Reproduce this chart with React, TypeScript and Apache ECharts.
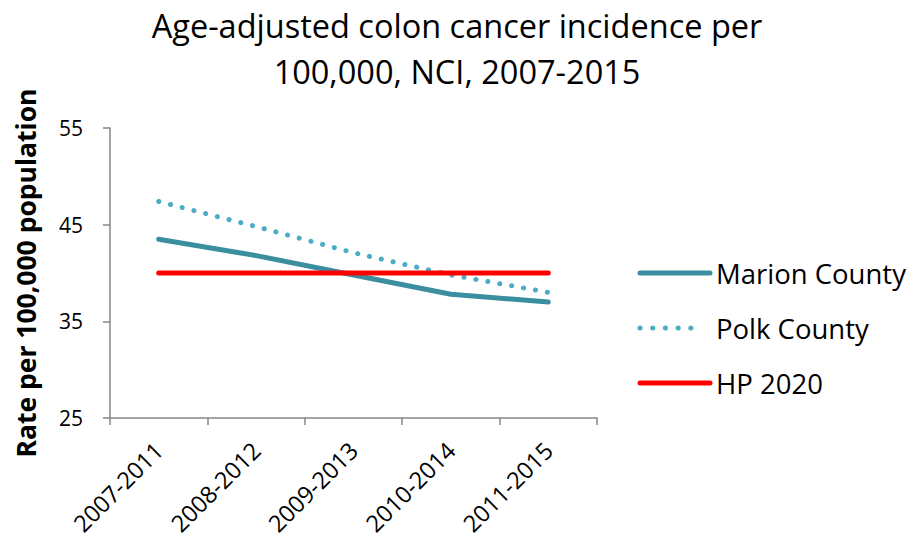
import React, { useEffect, useRef } from "react";
import * as echarts from "echarts";

const categories = ["2007-2011", "2008-2012", "2009-2013", "2010-2014", "2011-2015"];
const marion = [43.5, 41.8, 39.8, 37.8, 37.0];
const polk = [47.4, 44.8, 42.1, 39.8, 38.0];
const hp2020 = [40, 40, 40, 40, 40];
const seriesNames = ["Marion County", "Polk County", "HP 2020"];
const seriesColors = ["#3A8EA0", "#4BACC6", "#FF0000"];
const titleText = "Age-adjusted colon cancer incidence per\n100,000, NCI, 2007-2015";
const yAxisName = "Rate per 100,000 population";

const FONT = "Open Sans";

export default function App() {
  const ref = useRef<HTMLDivElement>(null);
  useEffect(() => {
    const chart = echarts.init(ref.current!, null, { renderer: "svg" });
    const legendX = 640;
    const legendY0 = 273;
    const legendStep = 55;
    const legendGraphics: any[] = [];
    seriesNames.forEach((name, i) => {
      const y = legendY0 + i * legendStep;
      legendGraphics.push({
        type: "line",
        shape: { x1: legendX, y1: y, x2: legendX + (i === 1 ? 63 : 70), y2: y },
        style: {
          stroke: seriesColors[i],
          lineWidth: 5,
          lineCap: "round",
          lineDash: i === 1 ? [0.1, 12.6] : null,
        },
        z: 10,
      });
      legendGraphics.push({
        type: "text",
        x: 716,
        y: y,
        style: {
          text: name,
          fontFamily: FONT,
          fontSize: 27.5,
          fill: "#000",
          verticalAlign: "middle",
          align: "left",
        },
        z: 10,
      });
    });
    chart.setOption({
      animation: false,
      backgroundColor: "#ffffff",
      textStyle: { fontFamily: FONT },
      title: {
        text: titleText,
        left: "center",
        top: 2,
        padding: 0,
        textStyle: { fontFamily: FONT, fontSize: 32.5, fontWeight: "normal", color: "#000", lineHeight: 46 },
      },
      graphic: legendGraphics,
      grid: { left: 110, right: 317, top: 128, bottom: 119 },
      xAxis: {
        type: "category",
        data: categories,
        boundaryGap: true,
        axisLine: { lineStyle: { color: "#868686", width: 1.5 } },
        axisTick: { show: true, alignWithLabel: false, length: 7, lineStyle: { color: "#868686", width: 1.5 } },
        axisLabel: { rotate: 45, fontSize: 23.5, color: "#000", fontFamily: FONT, margin: 28 },
      },
      yAxis: {
        type: "value",
        min: 25,
        max: 55,
        interval: 10,
        name: yAxisName,
        nameLocation: "middle",
        nameGap: 71,
        nameTextStyle: { fontFamily: FONT, fontSize: 26.5, fontWeight: "bold", color: "#000" },
        splitLine: { show: false },
        axisLine: { show: true, lineStyle: { color: "#868686", width: 1.5 } },
        axisTick: { show: true, length: 7, lineStyle: { color: "#868686", width: 1.5 } },
        axisLabel: { fontSize: 21, color: "#000", fontFamily: FONT, margin: 27 },
      },
      series: [
        {
          name: seriesNames[0],
          type: "line",
          data: marion,
          symbol: "none",
          lineStyle: { color: seriesColors[0], width: 5, cap: "round", join: "round" },
          z: 2,
        },
        {
          name: seriesNames[1],
          type: "line",
          data: polk,
          symbol: "none",
          lineStyle: { color: seriesColors[1], width: 5, type: [0.1, 12], cap: "round" },
          z: 2,
        },
        {
          name: seriesNames[2],
          type: "line",
          data: hp2020,
          symbol: "none",
          lineStyle: { color: seriesColors[2], width: 5, cap: "round" },
          z: 3,
        },
      ],
    });
    return () => chart.dispose();
  }, []);
  return <div ref={ref} style={{ width: 914, height: 538, position: "absolute", left: 0, top: 0 }} />;
}
